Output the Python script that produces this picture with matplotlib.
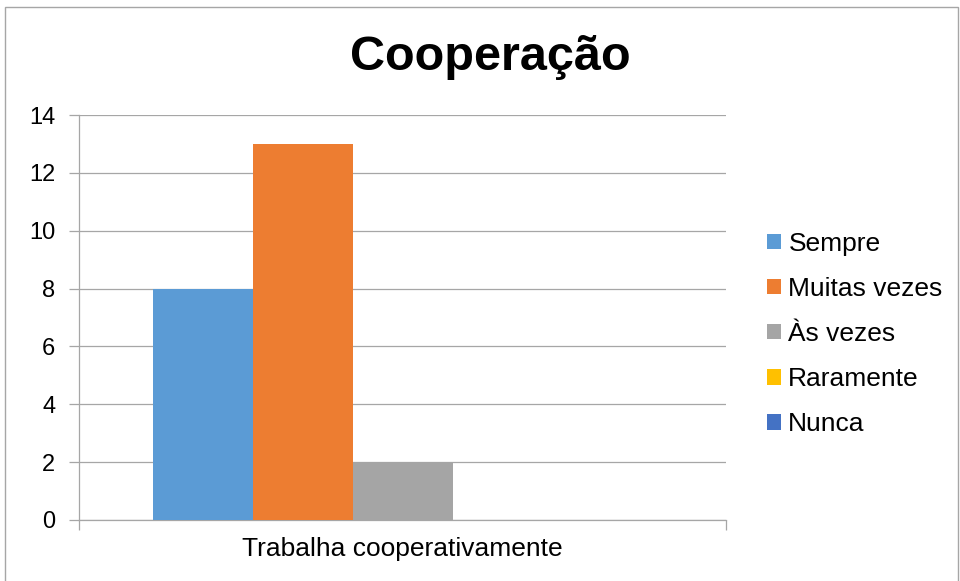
import matplotlib.pyplot as plt
from matplotlib.patches import Rectangle

plt.rcParams['font.family'] = ['Liberation Sans', 'DejaVu Sans']

categoria = 'Trabalha cooperativamente'
series = ['Sempre', 'Muitas vezes', 'Às vezes', 'Raramente', 'Nunca']
valores = [8, 13, 2, 0, 0]
cores = ['#5B9BD5', '#ED7D31', '#A5A5A5', '#FFC000', '#4472C4']

fig = plt.figure(figsize=(9.6, 5.81), dpi=100)
ax = fig.add_axes([79 / 960, 1 - 520 / 581, 647 / 960, 405 / 581])

largura = 500 / 647 / len(series)
for i, (nome, v, c) in enumerate(zip(series, valores, cores)):
    ax.bar((i - 2) * largura, v, width=largura, color=c, label=nome, zorder=3)

ax.set_xlim(-0.5, 0.5)
ax.set_ylim(0, 14)
ax.set_yticks(range(0, 15, 2))
ax.yaxis.grid(True, color='#A6A6A6', linewidth=0.9, zorder=0)
ax.set_xticks([0])
ax.set_xticklabels([categoria], fontsize=19)
ax.set_xticks([-0.5, 0.5], minor=True)
ax.tick_params(axis='x', which='major', length=0, pad=12)
ax.tick_params(axis='x', which='minor', length=7, color='#A6A6A6', width=0.9)
ax.tick_params(axis='y', length=7, color='#A6A6A6', width=0.9, labelsize=17, pad=10)

for s in ['top', 'right']:
    ax.spines[s].set_visible(False)
for s in ['left', 'bottom']:
    ax.spines[s].set_color('#A6A6A6')
    ax.spines[s].set_linewidth(0.9)

fig.text(490 / 960, 1 - 57 / 581, 'Cooperação', ha='center', va='center',
         fontsize=35, fontweight='bold')

leg = ax.legend(loc='center left', bbox_to_anchor=(767 / 960, 1 - 334 / 581),
                bbox_transform=fig.transFigure, frameon=False, borderpad=0,
                borderaxespad=0, fontsize=19, handlelength=0.53, handleheight=0.53,
                handletextpad=0.28, labelspacing=0.8)

# moldura do gráfico
fig.patches.append(Rectangle((5 / 960, -0.01), 953 / 960, 1 - 7 / 581 + 0.01,
                             transform=fig.transFigure, fill=False,
                             edgecolor='#A6A6A6', linewidth=1))

fig.savefig('out.png', dpi=100)
